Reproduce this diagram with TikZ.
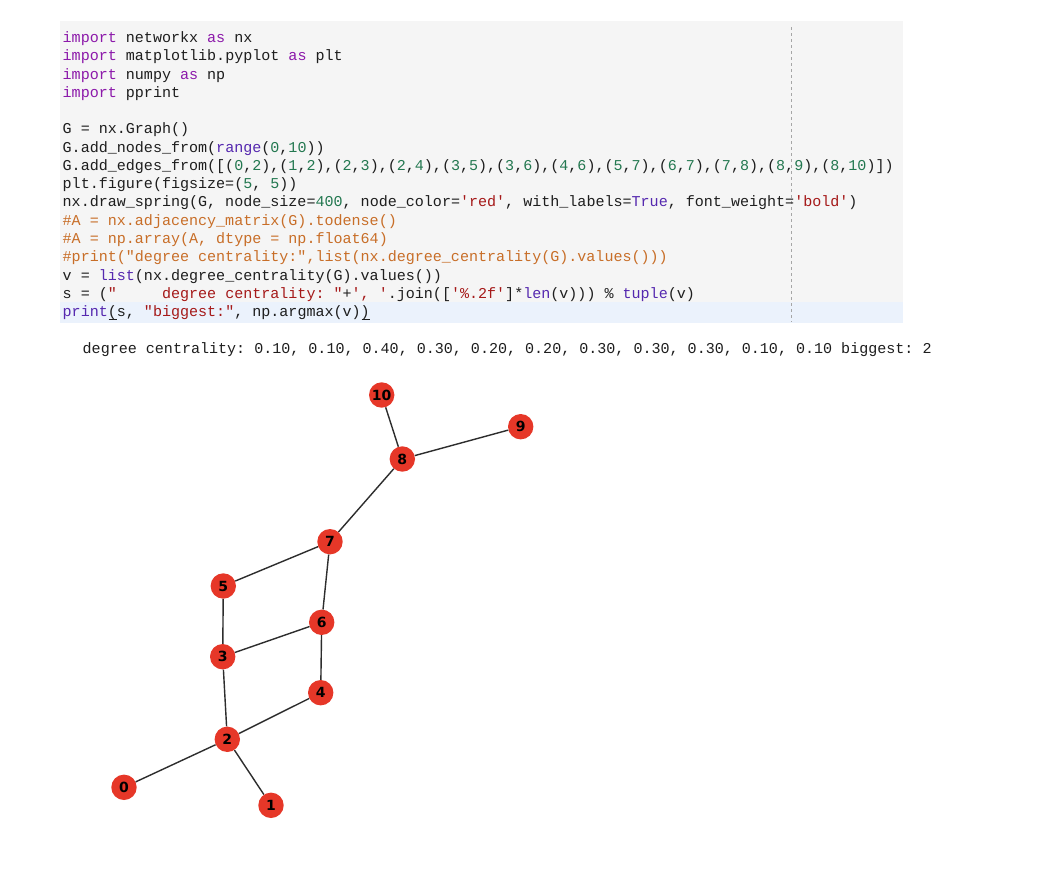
\documentclass[tikz,border=0pt]{standalone}
\usepackage{fontspec}
\setmonofont{Liberation Mono}
\newfontfamily\labelfont{DejaVu Sans}
\definecolor{cellbg}{RGB}{245,245,245}
\definecolor{cellhl}{RGB}{235,242,252}
\definecolor{codetext}{RGB}{30,30,30}
\definecolor{kwcolor}{RGB}{140,25,170}
\definecolor{bicolor}{RGB}{85,40,175}
\definecolor{strcolor}{RGB}{165,25,25}
\definecolor{numcolor}{RGB}{35,120,80}
\definecolor{comcolor}{RGB}{200,110,40}
\definecolor{nodered}{RGB}{230,55,40}
\definecolor{edgegray}{RGB}{45,45,45}
\newcommand{\pykw}[1]{\textcolor{kwcolor}{#1}}
\newcommand{\pybi}[1]{\textcolor{bicolor}{#1}}
\newcommand{\pystr}[1]{\textcolor{strcolor}{#1}}
\newcommand{\pynum}[1]{\textcolor{numcolor}{#1}}
\newcommand{\pycom}[1]{\textcolor{comcolor}{#1}}
\begin{document}
\begin{tikzpicture}[x=1pt,y=-1pt,
    codeline/.style={anchor=base west,inner sep=0pt,text=codetext,
      font=\ttfamily\frenchspacing\fontsize{15.05}{18}\selectfont},
    vertex/.style={circle,fill=nodered,minimum size=25.4pt,inner sep=0pt,
      font=\labelfont\bfseries\fontsize{14}{14}\selectfont},
    edge/.style={line width=1.4pt,draw=edgegray}]
    \useasboundingbox (0,0) rectangle (1044,886);
    \fill[white] (0,0) rectangle (1044,886);
    % code cell
    \fill[cellbg] (60,20.7) rectangle (902.7,322.7);
    \fill[cellhl] (60,302) rectangle (902.7,322.7);
    \draw[gray!70,line width=1pt,dash pattern=on 3pt off 3pt] (791,27) -- (791,322);
    \node[codeline] (l1) at (62.5,42.5) {\pykw{import} networkx \pykw{as} nx};
    \node[codeline] (l2) at (62.5,60.77) {\pykw{import} matplotlib.pyplot \pykw{as} plt};
    \node[codeline] (l3) at (62.5,79.04) {\pykw{import} numpy \pykw{as} np};
    \node[codeline] (l4) at (62.5,97.31) {\pykw{import} pprint};
    \node[codeline] (l6) at (62.5,133.85) {G = nx.Graph()};
    \node[codeline] (l7) at (62.5,152.12) {G.add\_nodes\_from(\pybi{range}(\pynum{0},\pynum{10}))};
    \node[codeline] (l8) at (62.5,170.39) {G.add\_edges\_from([(\pynum{0},\pynum{2}),(\pynum{1},\pynum{2}),(\pynum{2},\pynum{3}),(\pynum{2},\pynum{4}),(\pynum{3},\pynum{5}),(\pynum{3},\pynum{6}),(\pynum{4},\pynum{6}),(\pynum{5},\pynum{7}),(\pynum{6},\pynum{7}),(\pynum{7},\pynum{8}),(\pynum{8},\pynum{9}),(\pynum{8},\pynum{10})])};
    \node[codeline] (l9) at (62.5,188.66) {plt.figure(figsize=(\pynum{5}, \pynum{5}))};
    \node[codeline] (l10) at (62.5,206.93) {nx.draw\_spring(G, node\_size=\pynum{400}, node\_color=\pystr{'red'}, with\_labels=\pybi{True}, font\_weight=\pystr{'bold'})};
    \node[codeline] (l11) at (62.5,225.2) {\pycom{\#A = nx.adjacency\_matrix(G).todense()}};
    \node[codeline] (l12) at (62.5,243.47) {\pycom{\#A = np.array(A, dtype = np.float64)}};
    \node[codeline] (l13) at (62.5,261.74) {\pycom{\#print("degree centrality:",list(nx.degree\_centrality(G).values()))}};
    \node[codeline] (l14) at (62.5,280.01) {v = \pybi{list}(nx.degree\_centrality(G).values())};
    \node[codeline] (l15) at (62.5,298.28) {s = (\pystr{"~~~~~degree centrality: "}+\pystr{', '}.join([\pystr{'\%.2f'}]*\pybi{len}(v))) \% \pybi{tuple}(v)};
    \node[codeline] (l16) at (62.5,316.55) {\pybi{print}(s, \pystr{"biggest:"}, np.argmax(v))};
    \draw[codetext,line width=1pt] ([xshift=46pt,yshift=-3pt]l16.base west) -- ++(8,0);
    \draw[codetext,line width=1pt] ([xshift=299pt,yshift=-3pt]l16.base west) -- ++(8,0);
    % output
    \node[codeline] (out) at (82.5,353) {degree centrality: 0.10, 0.10, 0.40, 0.30, 0.20, 0.20, 0.30, 0.30, 0.30, 0.10, 0.10 biggest: 2};
    % graph
    \node[vertex] (v0) at (124,787.3) {0};
    \node[vertex] (v1) at (271,805.3) {1};
    \node[vertex] (v2) at (227.3,739.3) {2};
    \node[vertex] (v3) at (222.7,656.7) {3};
    \node[vertex] (v4) at (320.7,692.7) {4};
    \node[vertex] (v5) at (223.3,586) {5};
    \node[vertex] (v6) at (321.7,622.3) {6};
    \node[vertex] (v7) at (330,541.7) {7};
    \node[vertex] (v8) at (402.3,459) {8};
    \node[vertex] (v9) at (520.7,426.7) {9};
    \node[vertex] (v10) at (381.7,395) {10};
    \draw[edge] (v0) -- (v2);
    \draw[edge] (v1) -- (v2);
    \draw[edge] (v2) -- (v3);
    \draw[edge] (v2) -- (v4);
    \draw[edge] (v3) -- (v5);
    \draw[edge] (v3) -- (v6);
    \draw[edge] (v4) -- (v6);
    \draw[edge] (v5) -- (v7);
    \draw[edge] (v6) -- (v7);
    \draw[edge] (v7) -- (v8);
    \draw[edge] (v8) -- (v9);
    \draw[edge] (v8) -- (v10);
\end{tikzpicture}
\end{document}
